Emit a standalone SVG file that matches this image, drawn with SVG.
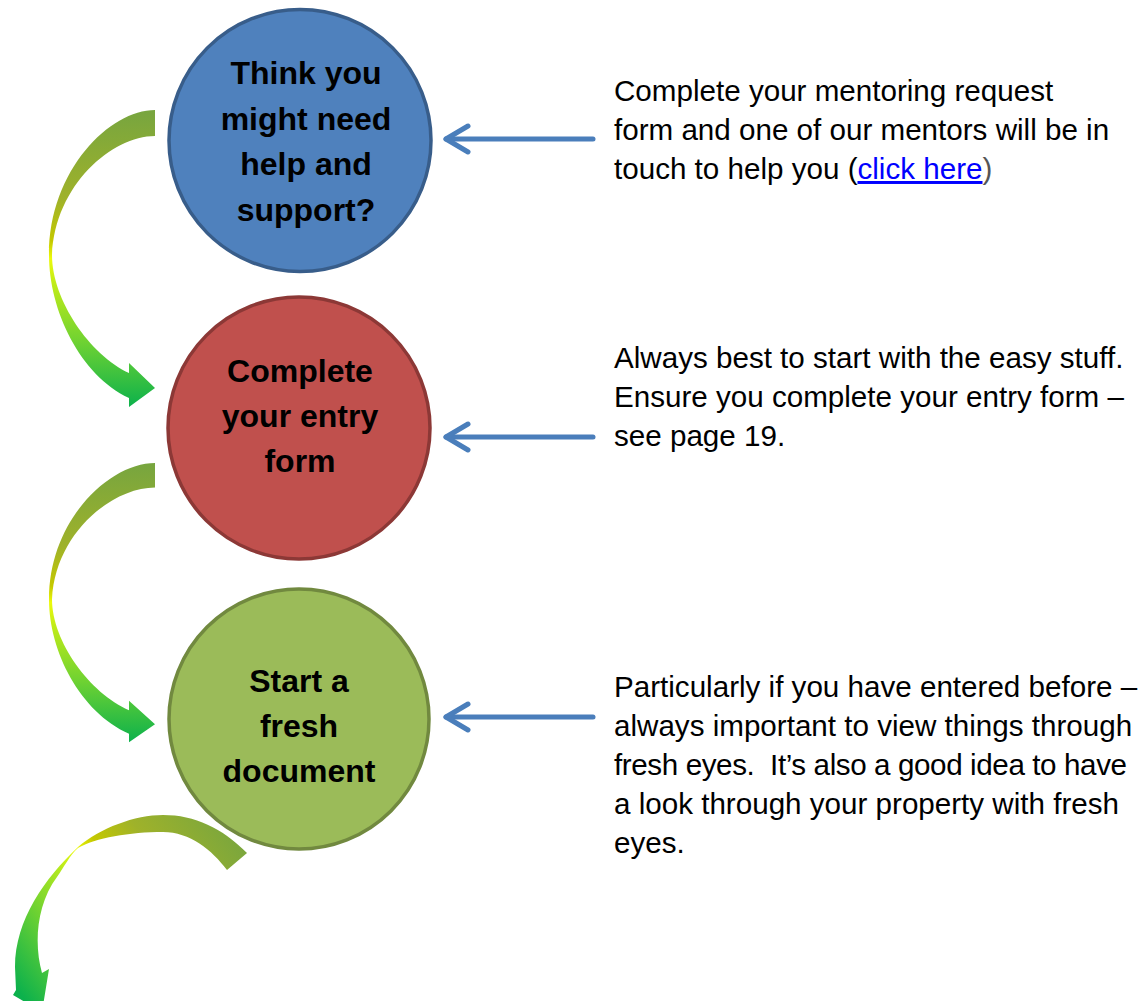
<svg xmlns="http://www.w3.org/2000/svg" width="1146" height="1001" viewBox="0 0 1146 1001">
  <style>
    .node-text { font-family: "Liberation Sans", Arial, sans-serif; font-weight: bold; font-size: 32px; fill: #000; text-anchor: middle; }
    .note { font-family: "Liberation Sans", Arial, sans-serif; font-size: 29.6px; fill: #000; white-space: pre; }
    .link { fill: #0000ff; text-decoration: underline; }
    .blue-arrow { stroke: #4a7ebb; stroke-width: 5; fill: none; stroke-linecap: round; stroke-linejoin: round; }
  </style>
  <defs>
    <linearGradient id="gv" x1="0" y1="0" x2="0" y2="1">
      <stop offset="0" stop-color="#77a53f"/>
      <stop offset="0.3" stop-color="#9fb22a"/>
      <stop offset="0.44" stop-color="#c4c800"/>
      <stop offset="0.5" stop-color="#ecfa0a"/>
      <stop offset="0.58" stop-color="#c2ec18"/>
      <stop offset="0.78" stop-color="#6fd232"/>
      <stop offset="1" stop-color="#0cb14c"/>
    </linearGradient>
    <linearGradient id="gd" gradientUnits="userSpaceOnUse" x1="245" y1="835" x2="25" y2="1000">
      <stop offset="0" stop-color="#77a53f"/>
      <stop offset="0.3" stop-color="#9fb22a"/>
      <stop offset="0.45" stop-color="#c4c800"/>
      <stop offset="0.52" stop-color="#ecfa0a"/>
      <stop offset="0.62" stop-color="#b0e820"/>
      <stop offset="1" stop-color="#0cb14c"/>
    </linearGradient>
    <marker id="chev" markerUnits="userSpaceOnUse" markerWidth="40" markerHeight="40" viewBox="-30 -20 40 40" refX="0" refY="0" orient="auto" overflow="visible">
      <path d="M-22,-13 L0,0 L-22,13" class="blue-arrow"/>
    </marker>
    <path id="curve" d="M155,110 L155,136 C112,136 55,185 52,255 C52,300 90,355 129,373 L129,363 L155,388 L129,407 L129,398 C80,375 49,310 49,255 C49,170 110,110 155,110 Z"/>
  </defs>

  <g id="node-help">
    <circle cx="300" cy="140.5" r="131" fill="#4f81bd" stroke="#385d8a" stroke-width="3.5"/>
    <text class="node-text" x="306" y="84">Think you</text>
    <text class="node-text" x="306" y="129.5">might need</text>
    <text class="node-text" x="306" y="175">help and</text>
    <text class="node-text" x="306" y="220.5">support?</text>
  </g>

  <g id="node-entry">
    <circle cx="299" cy="428" r="131" fill="#c0504d" stroke="#8c3836" stroke-width="3.5"/>
    <text class="node-text" x="300" y="382">Complete</text>
    <text class="node-text" x="300" y="427">your entry</text>
    <text class="node-text" x="300" y="472">form</text>
  </g>

  <g id="node-fresh">
    <circle cx="299" cy="719" r="130" fill="#9bbb59" stroke="#71893f" stroke-width="3.5"/>
    <text class="node-text" x="299" y="692">Start a</text>
    <text class="node-text" x="299" y="737">fresh</text>
    <text class="node-text" x="299" y="782">document</text>
  </g>

  <g id="note-help">
    <text class="note" x="614" y="101">Complete your mentoring request</text>
    <text class="note" x="614" y="140">form and one of our mentors will be in</text>
    <text class="note" x="614" y="179">touch to help you (<tspan class="link">click here</tspan><tspan fill="#555">)</tspan></text>
  </g>

  <g id="note-entry">
    <text class="note" x="614" y="368">Always best to start with the easy stuff.</text>
    <text class="note" x="614" y="407">Ensure you complete your entry form –</text>
    <text class="note" x="614" y="446">see page 19.</text>
  </g>

  <g id="note-fresh">
    <text class="note" x="614" y="697">Particularly if you have entered before –</text>
    <text class="note" x="614" y="736">always important to view things through</text>
    <text class="note" x="614" y="775" textLength="513" lengthAdjust="spacing">fresh eyes.  It’s also a good idea to have</text>
    <text class="note" x="614" y="814">a look through your property with fresh</text>
    <text class="note" x="614" y="853">eyes.</text>
  </g>

  <g id="connectors">
    <path class="blue-arrow" d="M593,139 L446,139" marker-end="url(#chev)"/>
    <path class="blue-arrow" d="M593,437 L446,437" marker-end="url(#chev)"/>
    <path class="blue-arrow" d="M593,717 L446,717" marker-end="url(#chev)"/>
    <use href="#curve" fill="url(#gv)"/>
    <use href="#curve" fill="url(#gv)" transform="translate(0,463) scale(1,0.94) translate(0,-110)"/>
    <path fill="url(#gd)" d="M247,853 C222,828 195,815 163,815 C135,815 100,828 78,847 C45,878 15,920 15,967 L16,990 L13,995 L42,1012 L49,969 L42,973 C34,945 36,905 57,877 C64,867 70,855 78,848 C95,838 130,832 163,832 C190,832 212,850 227,870 Z"/>
  </g>
</svg>
